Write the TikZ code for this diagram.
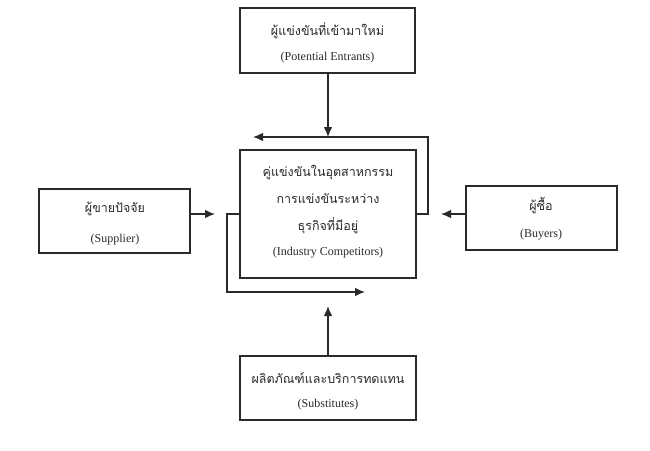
\documentclass[tikz,border=0pt]{standalone}
\usepackage{fontspec}
\setmainfont{Liberation Serif}
\newfontfamily\thaifont[Script=Thai]{Loma}
\usetikzlibrary{arrows.meta}
\definecolor{ink}{HTML}{2A2A2A}
\tikzset{
  box/.style={draw=ink, line width=1.3pt, inner sep=0pt},
  th/.style={font=\thaifont\fontsize{12.5}{14}\selectfont, text=ink, inner sep=0pt},
  en/.style={font=\fontsize{12}{14}\selectfont, text=ink, inner sep=0pt},
  conn/.style={draw=ink, line width=1.1pt},
  arr/.style={conn, -{Latex[length=10pt,width=8.5pt]}},
}
\begin{document}
\begin{tikzpicture}[x=1pt,y=-1pt]
\useasboundingbox (0,0) rectangle (650,450);
\fill[white] (0,0) rectangle (650,450);
% boxes
\node[box, minimum width=175pt, minimum height=65pt] (top) at (327.5,40.5) {};
\node[box, minimum width=176pt, minimum height=128pt] (mid) at (328,214) {};
\node[box, minimum width=151pt, minimum height=64pt] (sup) at (114.5,221) {};
\node[box, minimum width=151pt, minimum height=64pt] (buy) at (541.5,218) {};
\node[box, minimum width=176pt, minimum height=64pt] (sub) at (328,388) {};
% texts
\node[th] (t1) at (327.5,31) {ผู้แข่งขันที่เข้ามาใหม่};
\node[en] (t2) at (327.5,58) {(Potential Entrants)};
\node[th] (m1) at (328,173) {คู่แข่งขันในอุตสาหกรรม};
\node[th] (m2) at (328,199) {การแข่งขันระหว่าง};
\node[th] (m3) at (328,226) {ธุรกิจที่มีอยู่};
\node[en] (m4) at (328,253) {(Industry Competitors)};
\node[th] (s1) at (115,209) {ผู้ขายปัจจัย};
\node[en] (s2) at (115,240) {(Supplier)};
\node[th] (b1) at (541,206) {ผู้ซื้อ};
\node[en] (b2) at (541,235) {(Buyers)};
\node[th] (u1) at (328,378) {ผลิตภัณฑ์และบริการทดแทน};
\node[en] (u2) at (328,405) {(Substitutes)};
% coordinates
\coordinate (topin) at (328,137);
\coordinate (rloop) at (428,214);
\coordinate (rtop) at (428,137);
\coordinate (ltip) at (253,137);
\coordinate (lloop) at (227,214);
\coordinate (lbot) at (227,292);
\coordinate (btip) at (365,292);
\coordinate (suptip) at (215,214);
\coordinate (buytip) at (441,214);
\coordinate (supst) at (190,214);
\coordinate (buyst) at (466,214);
\coordinate (subin) at (328,306);
% connectors
\draw[arr] (top.south -| topin) -- (topin);
\draw[arr] (mid.east) -- (rloop) -- (rtop) -- (ltip);
\draw[arr] (mid.west) -- (lloop) -- (lbot) -- (btip);
\draw[arr] (sup.east |- supst) -- (suptip);
\draw[arr] (buy.west |- buyst) -- (buytip);
\draw[arr] (sub.north) -- (subin);
\end{tikzpicture}
\end{document}
